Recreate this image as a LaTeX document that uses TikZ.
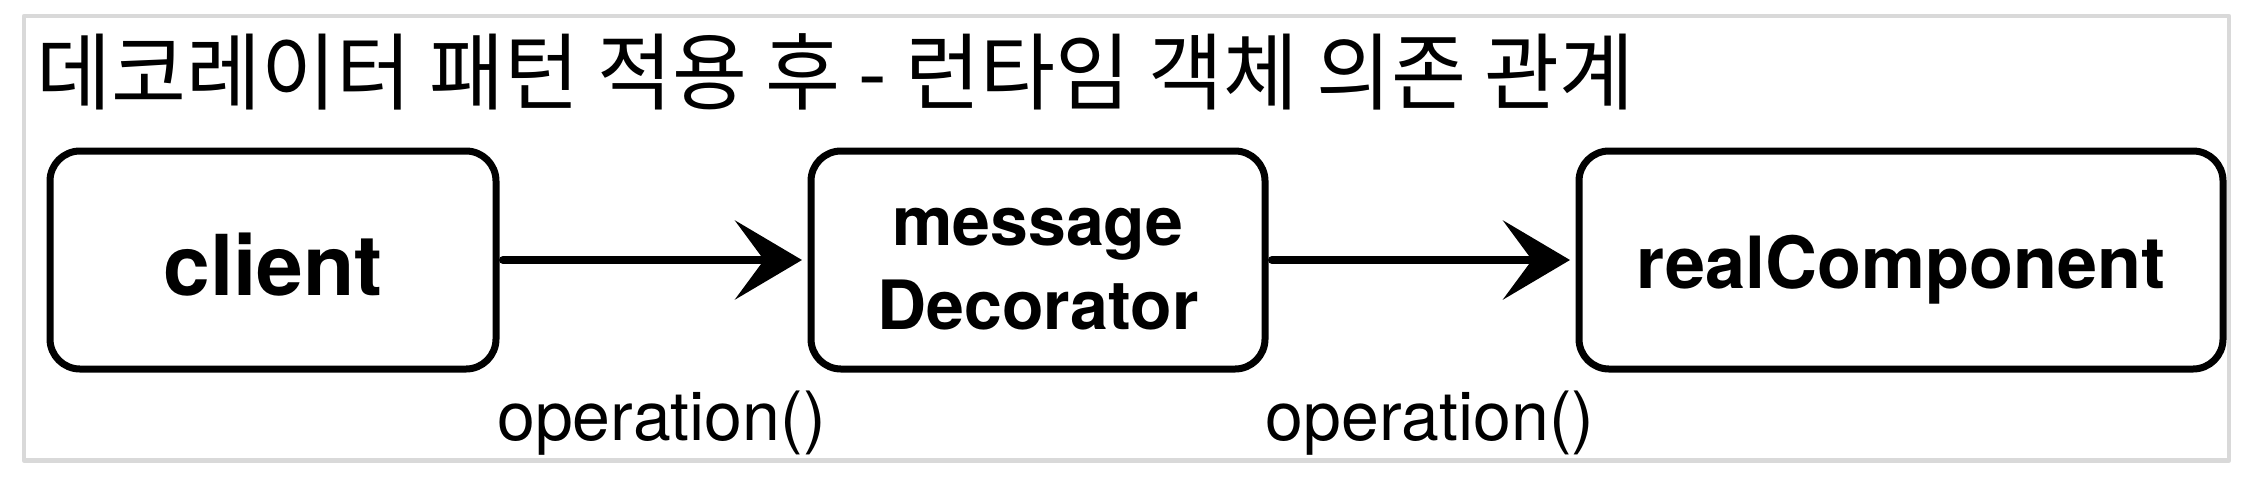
\documentclass[tikz,border=0pt]{standalone}
\usepackage{fontspec}
\setmainfont{TeX Gyre Heros}
\newfontfamily\krfont[FakeStretch=0.97]{Noto Sans CJK KR}
\usetikzlibrary{arrows.meta}
\definecolor{framegray}{HTML}{D9D9D9}

\begin{document}
\begin{tikzpicture}[x=0.5pt, y=-0.5pt, line cap=round, line join=round,
    objbox/.style={draw, line width=3.5pt, rounded corners=15pt, outer sep=0pt,
      align=center, minimum height=109pt},
    call/.style={-{Stealth[length=33.5pt, width=39.5pt, inset=14.5pt]},
      line width=4pt, shorten <=3.5pt, shorten >=4.5pt},
    calllabel/.style={midway, anchor=base, xshift=4pt, yshift=-90pt,
      font=\fontsize{34}{40}\selectfont}]
  \useasboundingbox (0,0) rectangle (2246,478);
  % --- 바깥 테두리 ---
  \draw[framegray, line width=2.25pt] (24,16) rectangle (2229,460.5);
  % --- 제목 ---
  \node[anchor=base west, inner sep=0pt, font=\krfont\fontsize{42}{50}\selectfont]
    (title) at (36,103) {데코레이터 패턴 적용 후 - 런타임 객체 의존 관계};
  % --- 객체 ---
  \node[objbox, minimum width=223pt, text height=35pt, text depth=0pt,
    font=\bfseries\fontsize{42}{50}\selectfont] (client) at (273,260) {client};
  \node[objbox, minimum width=227pt,
    font=\bfseries\fontsize{34}{42}\selectfont] (decorator) at (1038,260)
    {\rule{0pt}{28pt}message\\Decorator};
  \node[objbox, minimum width=322pt, text height=28pt, text depth=0pt,
    font=\bfseries\fontsize{36}{44}\selectfont] (real) at (1901,260) {realComponent};
  % --- 호출 화살표 ---
  \draw[call] (client) -- node[calllabel] {operation()} (decorator);
  \draw[call] (decorator) -- node[calllabel] {operation()} (real);
\end{tikzpicture}
\end{document}
